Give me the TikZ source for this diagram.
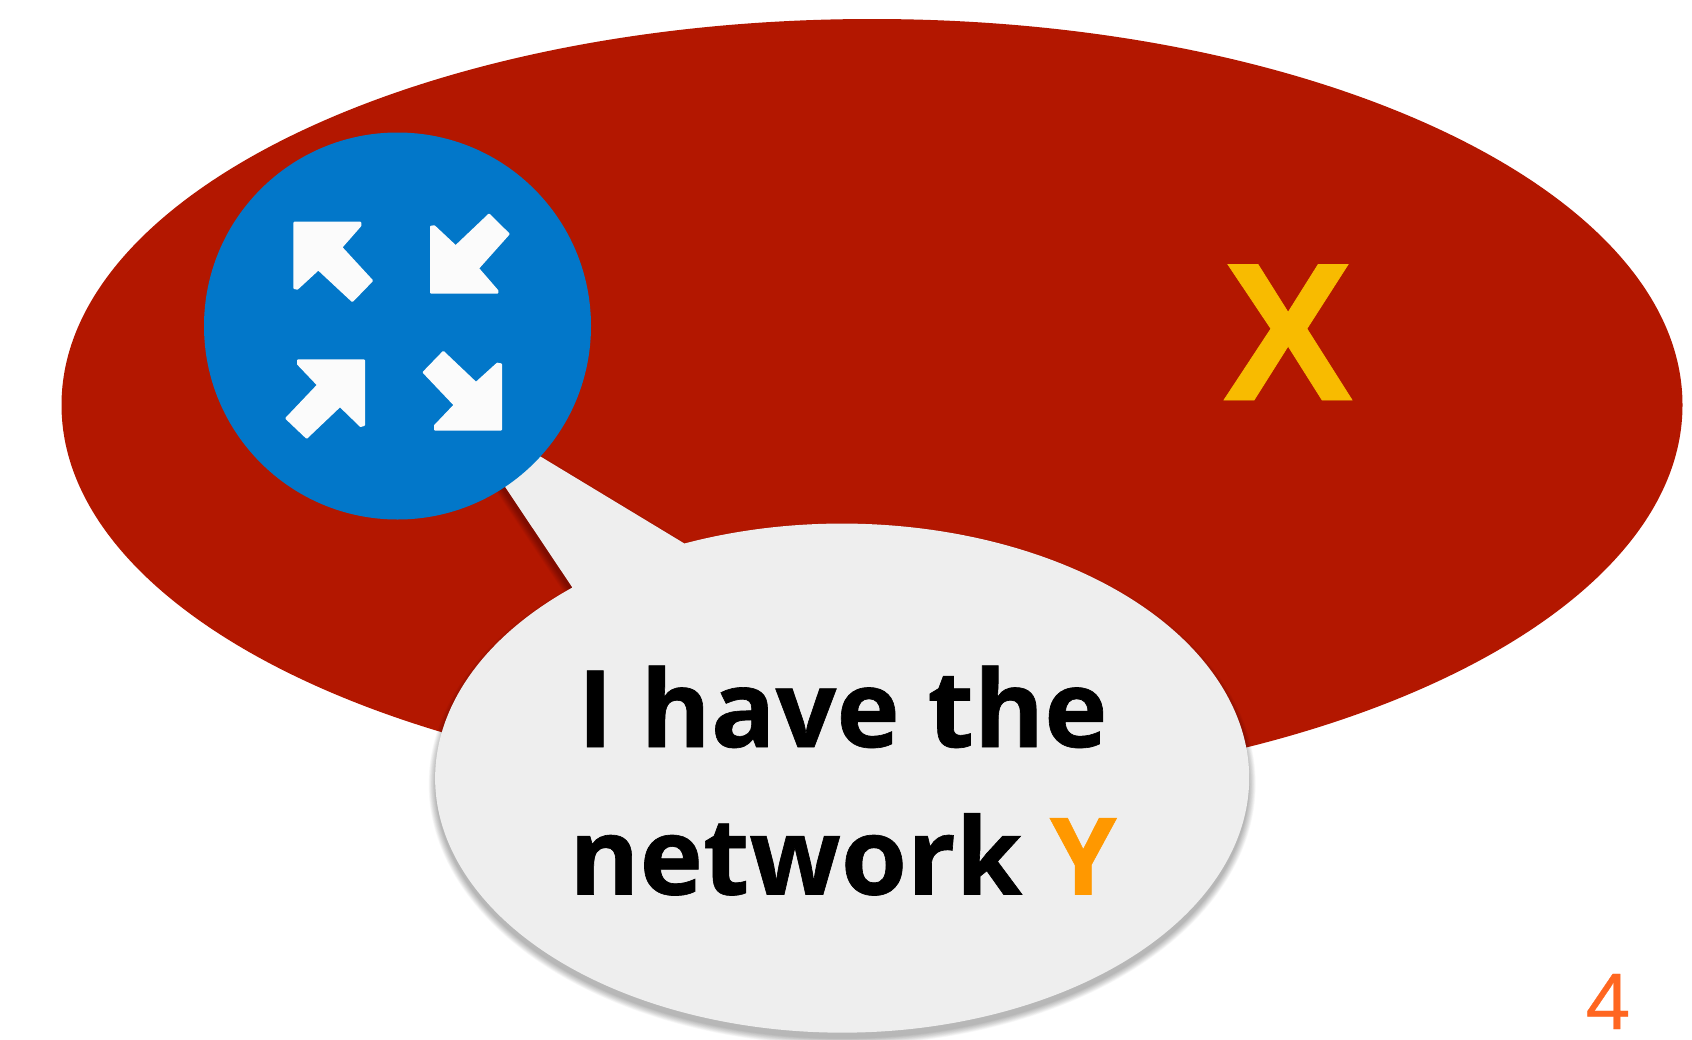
\documentclass[tikz,border=0pt]{standalone}
\usepackage{fontspec}
\setmainfont[BoldFeatures={FakeBold=0.6}]{Open Sans}
\newfontfamily\arialish[BoldFeatures={FakeBold=0.4}]{Liberation Sans}
\newfontfamily\numfont[FakeBold=0.4]{Liberation Sans}
\definecolor{redbg}{HTML}{B31700}
\definecolor{bluec}{HTML}{0277C9}
\definecolor{bubblec}{HTML}{EEEEEE}
\definecolor{xcol}{HTML}{F8BB00}
\definecolor{ycol}{HTML}{FF9800}
\definecolor{numcol}{HTML}{FF6620}
\definecolor{arrowc}{HTML}{FBFBFB}
\tikzset{
  bubbleoutline/.style={insert path={
    (-269.5,-190.3) -- (-395,-378) -- (-157.6,-234.5)
    arc[start angle=-112.8,end angle=228.5,x radius=407pt,y radius=254.5pt] -- cycle}},
  iconarrow/.style={fill=arrowc,draw=arrowc,line width=2pt,line join=round},
  bigtext/.style={inner sep=0pt,anchor=base,font=\bfseries\fontsize{107}{107}\selectfont}
}
\begin{document}
\begin{tikzpicture}[x=1pt,y=1pt,yscale=-1]
\useasboundingbox (0,0) rectangle (1692,1039);
\fill[white] (0,0) rectangle (1692,1039);
\fill[redbg] (872,405) ellipse[x radius=810.5pt,y radius=386pt];
\foreach \i in {0,...,10}{
  \begin{scope}[transparency group,opacity=0.026]
  \filldraw[black,line width={1.3*\i+0.01},line join=round,shift={(842,784)},bubbleoutline];
  \end{scope}
}
\fill[bubblec,shift={(842,778)},bubbleoutline];
\fill[bluec] (397.5,326) circle[radius=193.5pt];
\begin{scope}[shift={(190,120)},scale=1/3]
\fill[iconarrow] (313,308) -- (511,308) -- (511,317) -- (454,382) -- (546,482) -- (487,543) -- (385,448) -- (322,506) -- (313,504) -- cycle;
\fill[iconarrow] (723,320) -- (733,319) -- (797,379) -- (897,284) -- (956,342) -- (864,445) -- (922,512) -- (922,518) -- (723,518) -- cycle;
\fill[iconarrow] (324,721) -- (522,721) -- (522,915) -- (512,918) -- (450,858) -- (350,953) -- (289,895) -- (384,795) -- (324,732) -- cycle;
\fill[iconarrow] (760,696) -- (858,789) -- (922,731) -- (933,733) -- (933,929) -- (735,929) -- (735,917) -- (794,855) -- (701,757) -- cycle;
\end{scope}
\node[inner sep=0pt,anchor=base,text=xcol,font=\arialish\bfseries\fontsize{197}{197}\selectfont] (xlabel) at (1288,400) {X};
\node[bigtext] (lineone) at (842.5,747) {I have the};
\node[bigtext] (linetwo) at (843,894.5) {network \textcolor{ycol}{Y}};
\node[inner sep=0pt,anchor=base,text=numcol,font=\numfont\fontsize{80}{80}\selectfont] (pagenum) at (1608,1029) {4};
\end{tikzpicture}
\end{document}
